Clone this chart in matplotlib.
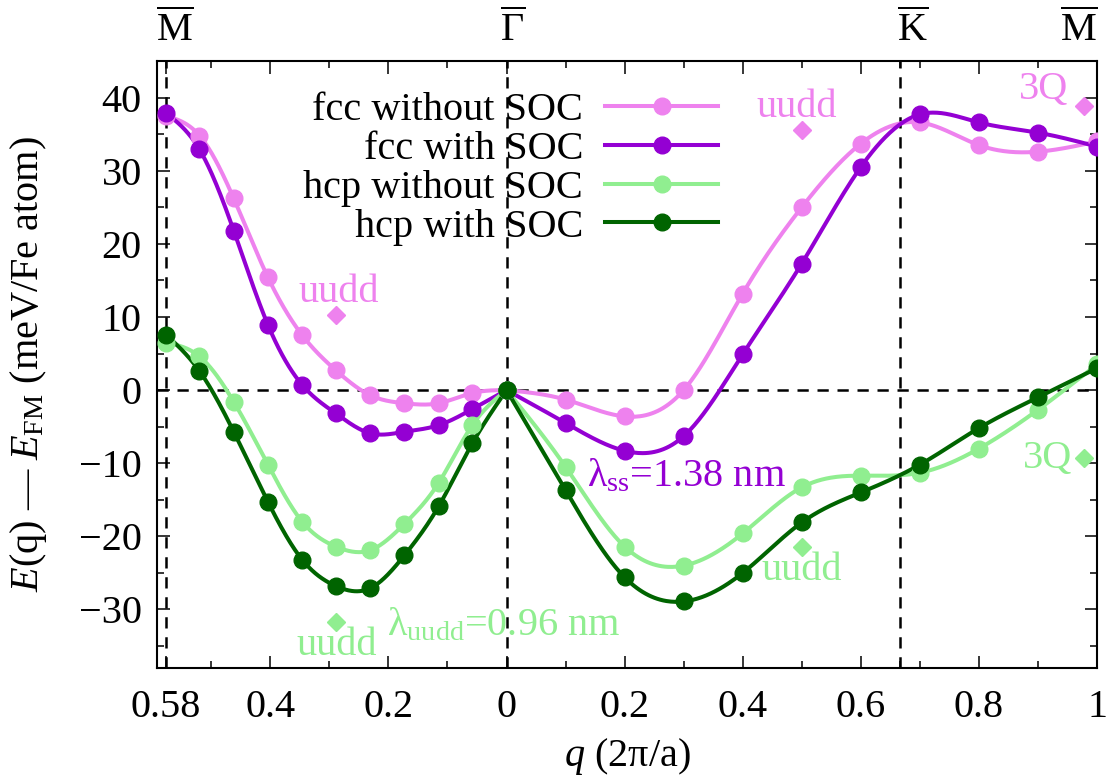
import numpy as np
import matplotlib.pyplot as plt

plt.rcParams['font.family'] = ['Liberation Serif', 'DejaVu Serif']
plt.rcParams['mathtext.fontset'] = 'custom'
plt.rcParams['mathtext.rm'] = 'Liberation Serif'
plt.rcParams['mathtext.it'] = 'Liberation Serif:italic'
plt.rcParams['font.size'] = 29

# q along M-Gamma (left part, drawn at -q) and Gamma-K-M (right part)
q_left = [0.577, 0.520, 0.462, 0.404, 0.346, 0.289, 0.231, 0.173, 0.115, 0.058, 0.0]
q_right = [0.0, 0.1, 0.2, 0.3, 0.4, 0.5, 0.6, 0.7, 0.8, 0.9, 1.0]

labels = ['fcc without SOC', 'fcc with SOC', 'hcp without SOC', 'hcp with SOC']
colors = ['#EE82EE', '#9400D3', '#90EE90', '#006400']

fcc_nosoc_left = [37.5, 34.8, 26.2, 15.4, 7.5, 2.7, -0.7, -1.8, -1.8, -0.4, 0.0]
fcc_soc_left = [37.9, 32.9, 21.8, 8.9, 0.7, -3.2, -5.9, -5.7, -4.8, -2.6, 0.0]
hcp_nosoc_left = [6.5, 4.6, -1.6, -10.2, -18.0, -21.4, -21.9, -18.3, -12.7, -4.8, 0.0]
hcp_soc_left = [7.6, 2.6, -5.7, -15.3, -23.2, -26.8, -27.1, -22.6, -15.9, -7.3, 0.0]

fcc_nosoc_right = [0.0, -1.3, -3.6, 0.0, 13.2, 25.0, 33.7, 36.6, 33.5, 32.6, 34.0]
fcc_soc_right = [0.0, -4.5, -8.3, -6.3, 4.9, 17.3, 30.5, 37.7, 36.6, 35.2, 33.3]
hcp_nosoc_right = [0.0, -10.5, -21.4, -24.0, -19.6, -13.3, -11.7, -11.3, -8.0, -2.7, 3.5]
hcp_soc_right = [0.0, -13.7, -25.6, -28.9, -25.0, -18.1, -14.0, -10.2, -5.2, -1.0, 3.0]

left_sets = [fcc_nosoc_left, fcc_soc_left, hcp_nosoc_left, hcp_soc_left]
right_sets = [fcc_nosoc_right, fcc_soc_right, hcp_nosoc_right, hcp_soc_right]

# special states (path coordinate, energy)
fcc_uudd_x = [-0.289, 0.5]
fcc_uudd_e = [10.2, 35.5]
fcc_3q_x = [0.978]
fcc_3q_e = [38.9]
hcp_uudd_x = [-0.289, 0.5]
hcp_uudd_e = [-31.7, -21.4]
hcp_3q_x = [0.978]
hcp_3q_e = [-9.3]

xtick_pos = [-0.577, -0.4, -0.2, 0, 0.2, 0.4, 0.6, 0.8, 1.0]
xtick_lab = ['0.58', '0.4', '0.2', '0', '0.2', '0.4', '0.6', '0.8', '1']
sym_pos = [-0.577, 0.0, 0.667, 1.0]


def spline(x, y, n=400):
    # natural cubic spline through the points
    x = np.asarray(x, float)
    y = np.asarray(y, float)
    m = len(x)
    h = np.diff(x)
    A = np.zeros((m, m))
    b = np.zeros(m)
    A[0, 0] = A[-1, -1] = 1
    for i in range(1, m - 1):
        A[i, i - 1] = h[i - 1]
        A[i, i] = 2 * (h[i - 1] + h[i])
        A[i, i + 1] = h[i]
        b[i] = 6 * ((y[i + 1] - y[i]) / h[i] - (y[i] - y[i - 1]) / h[i - 1])
    M = np.linalg.solve(A, b)
    xx = np.linspace(x[0], x[-1], n)
    k = np.clip(np.searchsorted(x, xx) - 1, 0, m - 2)
    hk = h[k]
    a = x[k + 1] - xx
    c = xx - x[k]
    yy = (M[k] * a**3 + M[k + 1] * c**3) / (6 * hk) \
        + (y[k] / hk - M[k] * hk / 6) * a + (y[k + 1] / hk - M[k + 1] * hk / 6) * c
    return xx, yy


fig = plt.figure(figsize=(11.11, 7.78), dpi=100)
ax = fig.add_axes([0.1413, 0.1414, 0.8461, 0.7802])

# guide lines
kw = dict(color='black', lw=1.8, dashes=(4.5, 3.5), zorder=1)
ax.axhline(0, **kw)
for s in sym_pos[:3]:
    ax.axvline(s, **kw)

xl = -np.array(q_left)
xr = np.array(q_right)
for lab, c, yl, yr in zip(labels, colors, left_sets, right_sets):
    xx, yy = spline(xl, yl)
    ax.plot(xx, yy, color=c, lw=2.9, zorder=2)
    xx, yy = spline(xr, yr)
    ax.plot(xx, yy, color=c, lw=2.9, zorder=2)
    ax.plot(xl, yl, 'o', color=c, ms=12, zorder=3)
    ax.plot(xr, yr, 'o', color=c, ms=12, zorder=3)
    ax.plot([], [], '-o', color=c, lw=2.9, ms=12, label=lab)

ax.plot(fcc_uudd_x + fcc_3q_x, fcc_uudd_e + fcc_3q_e, 'D', color=colors[0], ms=9, zorder=3)
ax.plot(hcp_uudd_x + hcp_3q_x, hcp_uudd_e + hcp_3q_e, 'D', color=colors[2], ms=9, zorder=3)

ax.text(-0.285, 12.0, 'uudd', color=colors[0], ha='center', va='baseline')
ax.text(0.491, 37.4, 'uudd', color=colors[0], ha='center', va='baseline')
ax.text(0.910, 39.8, '3Q', color=colors[0], ha='center', va='baseline')
ax.text(-0.288, -36.2, 'uudd', color=colors[2], ha='center', va='baseline')
ax.text(0.50, -25.9, 'uudd', color=colors[2], ha='center', va='baseline')
ax.text(0.917, -10.6, '3Q', color=colors[2], ha='center', va='baseline')
ax.text(0.137, -13.2, 'λ$_{\\mathrm{ss}}$=1.38 nm', color=colors[1], ha='left', va='baseline')
ax.text(-0.203, -33.5, 'λ$_{\\mathrm{uudd}}$=0.96 nm', color=colors[2], ha='left', va='baseline')

# high-symmetry point names above the frame
for x, s in zip([-0.561, 0.010, 0.688, 0.969],
                [r'$\overline{\mathrm{M}}$', r'$\overline{\Gamma}$', r'$\overline{\mathrm{K}}$', r'$\overline{\mathrm{M}}$']):
    ax.text(x, 1.033, s, transform=ax.get_xaxis_transform(), ha='center', va='baseline')

ax.set_xlim(-0.592, 1.0)
ax.set_ylim(-38, 45)
ax.set_xticks(xtick_pos)
ax.set_xticklabels(xtick_lab)
ax.set_xticks(list(np.arange(-0.5, 0.0, 0.1)) + list(np.arange(0.1, 1.0, 0.1)) + [0.667], minor=True)
ax.set_yticks([-30, -20, -10, 0, 10, 20, 30, 40])
ax.set_yticks(np.arange(-35, 45, 5), minor=True)
ax.tick_params(which='both', direction='in', top=True, right=True, width=1.1)
ax.tick_params(which='major', length=9)
ax.tick_params(which='minor', length=5)
ax.tick_params(axis='x', pad=15)
ax.tick_params(axis='y', pad=11)
for sp in ax.spines.values():
    sp.set_linewidth(1.5)

ax.set_xlabel(r'$q$ (2π/a)')
ax.set_ylabel(r'$E$(q) — $E_{\mathrm{FM}}$ (meV/Fe atom)')
ax.xaxis.set_label_coords(0.5, -0.112)
ax.yaxis.set_label_coords(-0.115, 0.5)

ax.legend(loc='upper right', bbox_to_anchor=(0.597, 0.949), frameon=False,
          markerfirst=False, handlelength=2.8, handletextpad=0.55,
          labelspacing=0.04, borderpad=0, borderaxespad=0)

fig.savefig('out.png', dpi=100)
